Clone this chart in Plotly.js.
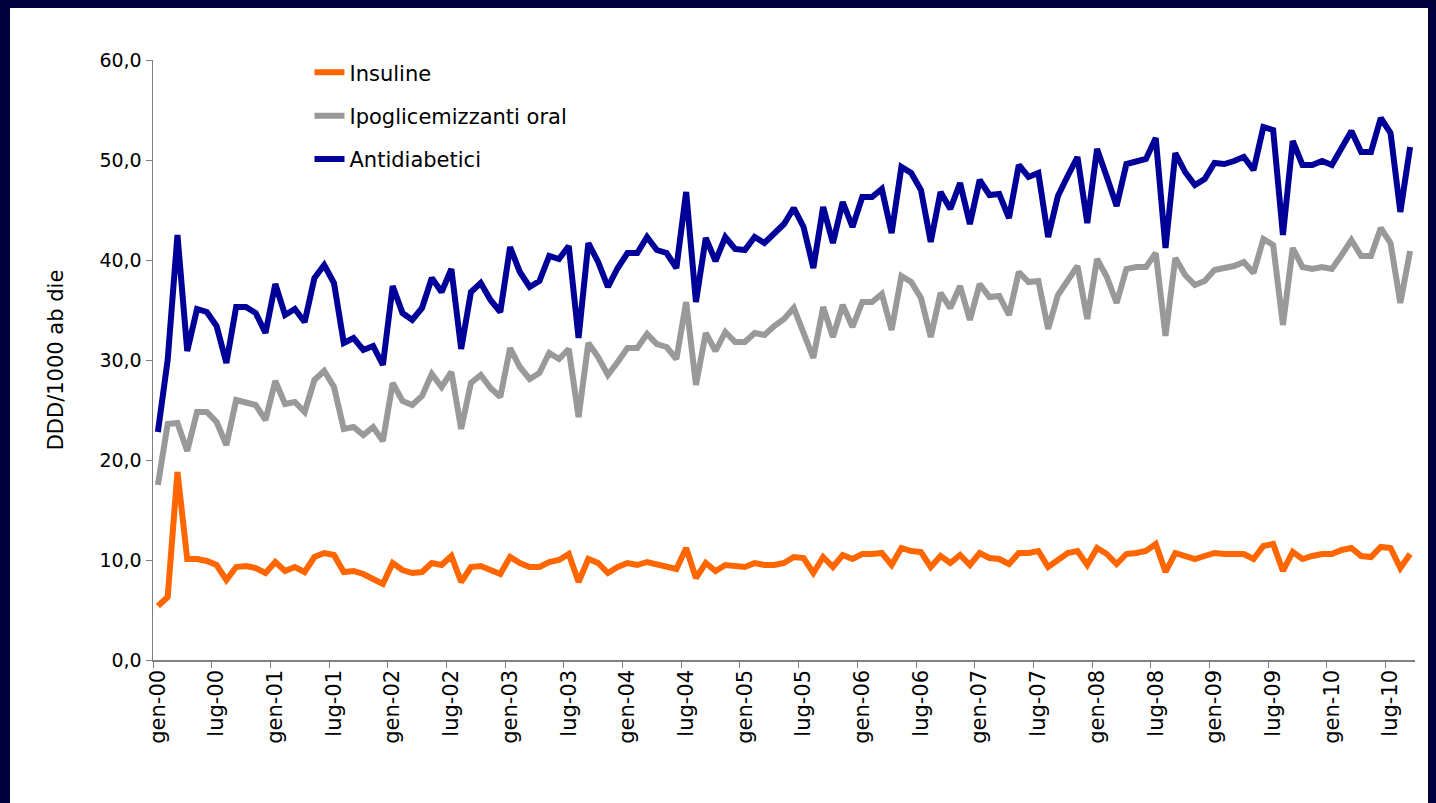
<!DOCTYPE html>
<html>
<head>
<meta charset="utf-8">
<script src="https://cdn.plot.ly/plotly-3.0.1.min.js"></script>
<style>
  html, body { margin: 0; padding: 0; background: #00003c; width: 1436px; height: 803px; overflow: hidden; }
  #frame { position: absolute; left: 10px; top: 8px; width: 1418px; height: 795px; background: #ffffff; }
  #chart { width: 1418px; height: 795px; }
</style>
</head>
<body>
<div id="frame"><div id="chart"></div></div>
<script>
// Month names (Italian abbreviations) and years covered: gen-00 .. set-10
const monthNames = ["gen","feb","mar","apr","mag","giu","lug","ago","set","ott","nov","dic"];
const nMonths = 129;
const categories = [];
for (let i = 0; i < nMonths; i++) {
  const y = Math.floor(i / 12);
  categories.push(monthNames[i % 12] + "-" + String(y).padStart(2, "0"));
}

const insuline = [
  5.4, 6.3, 18.8, 10.1, 10.1, 9.9, 9.5, 8.0, 9.3, 9.4, 9.2, 8.7,
  9.8, 8.9, 9.3, 8.8, 10.3, 10.7, 10.5, 8.8, 8.9, 8.6, 8.1, 7.6,
  9.7, 9.0, 8.7, 8.8, 9.7, 9.5, 10.4, 7.8, 9.3, 9.4, 9.0, 8.6,
  10.3, 9.7, 9.3, 9.3, 9.8, 10.0, 10.6, 7.8, 10.1, 9.7, 8.7, 9.3,
  9.7, 9.5, 9.8, 9.6, 9.3, 9.1, 11.2, 8.2, 9.7, 8.9, 9.5, 9.4,
  9.3, 9.7, 9.5, 9.5, 9.7, 10.3, 10.2, 8.7, 10.3, 9.3, 10.5, 10.1,
  10.6, 10.6, 10.7, 9.5, 11.2, 10.9, 10.8, 9.3, 10.4, 9.7, 10.5, 9.5,
  10.7, 10.2, 10.1, 9.6, 10.7, 10.7, 10.9, 9.3, 10.0, 10.7, 10.9, 9.5,
  11.2, 10.6, 9.6, 10.6, 10.7, 10.9, 11.6, 8.8, 10.7, 10.4, 10.1, 10.4,
  10.7, 10.6, 10.6, 10.6, 10.1, 11.4, 11.6, 8.9, 10.8, 10.1, 10.4, 10.6,
  10.6, 11.0, 11.2, 10.4, 10.3, 11.3, 11.2, 9.2, 10.6
];

const ipoglicemizzanti = [
  17.5, 23.6, 23.7, 20.9, 24.8, 24.8, 23.8, 21.5, 26.0, 25.8, 25.5, 24.0,
  27.9, 25.6, 25.8, 24.8, 28.0, 28.9, 27.3, 23.1, 23.3, 22.5, 23.3, 21.9,
  27.7, 25.9, 25.5, 26.4, 28.6, 27.3, 28.8, 23.1, 27.7, 28.5, 27.2, 26.3,
  31.2, 29.3, 28.1, 28.7, 30.7, 30.1, 31.1, 24.3, 31.7, 30.3, 28.5, 29.8,
  31.2, 31.2, 32.6, 31.6, 31.3, 30.1, 35.8, 27.5, 32.7, 30.9, 32.8, 31.8,
  31.8, 32.7, 32.5, 33.4, 34.1, 35.2, 32.8, 30.2, 35.3, 32.3, 35.5, 33.3,
  35.8, 35.8, 36.6, 33.0, 38.4, 37.8, 36.2, 32.3, 36.7, 35.2, 37.4, 34.0,
  37.6, 36.3, 36.4, 34.5, 38.8, 37.8, 37.9, 33.1, 36.5, 38.0, 39.4, 34.1,
  40.1, 38.3, 35.7, 39.1, 39.3, 39.3, 40.7, 32.4, 40.2, 38.5, 37.5, 37.9,
  39.0, 39.2, 39.4, 39.8, 38.7, 42.1, 41.5, 33.5, 41.2, 39.3, 39.1, 39.3,
  39.1, 40.5, 42.0, 40.4, 40.4, 43.2, 41.7, 35.7, 40.9
];

const antidiabetici = [
  22.8, 30.0, 42.5, 30.9, 35.1, 34.8, 33.4, 29.7, 35.3, 35.3, 34.7, 32.7,
  37.6, 34.5, 35.1, 33.8, 38.2, 39.5, 37.7, 31.7, 32.2, 31.0, 31.4, 29.5,
  37.4, 34.7, 34.0, 35.2, 38.2, 36.8, 39.1, 31.1, 36.8, 37.7, 36.0, 34.8,
  41.3, 38.8, 37.3, 37.9, 40.4, 40.1, 41.4, 32.2, 41.7, 39.8, 37.3, 39.2,
  40.7, 40.7, 42.3, 41.0, 40.7, 39.2, 46.8, 35.8, 42.2, 39.9, 42.3, 41.1,
  41.0, 42.3, 41.7, 42.7, 43.6, 45.2, 43.3, 39.2, 45.3, 41.7, 45.8, 43.3,
  46.3, 46.3, 47.1, 42.7, 49.3, 48.7, 47.0, 41.8, 46.8, 45.1, 47.7, 43.6,
  48.0, 46.5, 46.6, 44.2, 49.5, 48.3, 48.7, 42.3, 46.4, 48.4, 50.3, 43.7,
  51.1, 48.3, 45.4, 49.6, 49.8, 50.1, 52.2, 41.2, 50.7, 48.8, 47.5, 48.1,
  49.7, 49.6, 49.9, 50.3, 49.0, 53.3, 53.0, 42.5, 51.9, 49.5, 49.5, 49.9,
  49.5, 51.3, 52.9, 50.8, 50.8, 54.2, 52.7, 44.8, 51.3
];

const seriesNames = ["Insuline", "Ipoglicemizzanti oral", "Antidiabetici"];
const seriesColors = ["#ff6600", "#999999", "#000099"];
const seriesValues = [insuline, ipoglicemizzanti, antidiabetici];

const FONT = "Verdana, 'DejaVu Sans', sans-serif";

const traces = seriesValues.map((vals, k) => ({
  type: "scatter",
  mode: "lines",
  x: categories,
  y: vals,
  name: seriesNames[k],
  legendgroup: "g" + k,
  line: { color: seriesColors[k], width: 6, shape: "linear" },
  hoverinfo: "x+y+name"
}));

const layout = {
  width: 1418,
  height: 795,
  paper_bgcolor: "#ffffff",
  plot_bgcolor: "#ffffff",
  separators: ",.",
  margin: { l: 143, r: 13, t: 52, b: 143 },
  font: { family: FONT, color: "#000000", size: 19 },
  showlegend: true,
  legend: {
    x: 0.124, y: 1.013, xanchor: "left", yanchor: "top",
    bgcolor: "rgba(0,0,0,0)",
    font: { family: FONT, size: 21, color: "#000000" },
    traceorder: "grouped",
    tracegroupgap: 13
  },
  xaxis: {
    type: "category",
    range: [-0.5, nMonths - 0.5],
    tickmode: "linear",
    tick0: 0,
    dtick: 6,
    tickson: "boundaries",
    ticks: "outside",
    ticklen: 6,
    tickcolor: "#808080",
    tickangle: -90,
    tickfont: { family: FONT, size: 21, color: "#000000" },
    showline: true,
    linecolor: "#808080",
    linewidth: 1.5,
    showgrid: false,
    zeroline: false,
    fixedrange: true
  },
  yaxis: {
    range: [0, 60],
    tickmode: "linear",
    tick0: 0,
    dtick: 10,
    tickformat: ".1f",
    ticks: "outside",
    ticklen: 6,
    tickcolor: "#808080",
    tickfont: { family: FONT, size: 19, color: "#000000" },
    showline: true,
    linecolor: "#808080",
    linewidth: 1.5,
    showgrid: false,
    zeroline: false,
    title: { text: "DDD/1000 ab die", font: { family: FONT, size: 21, color: "#000000" }, standoff: 30 },
    fixedrange: true
  }
};

Plotly.newPlot("chart", traces, layout, { displayModeBar: false, staticPlot: true });
</script>
</body>
</html>
